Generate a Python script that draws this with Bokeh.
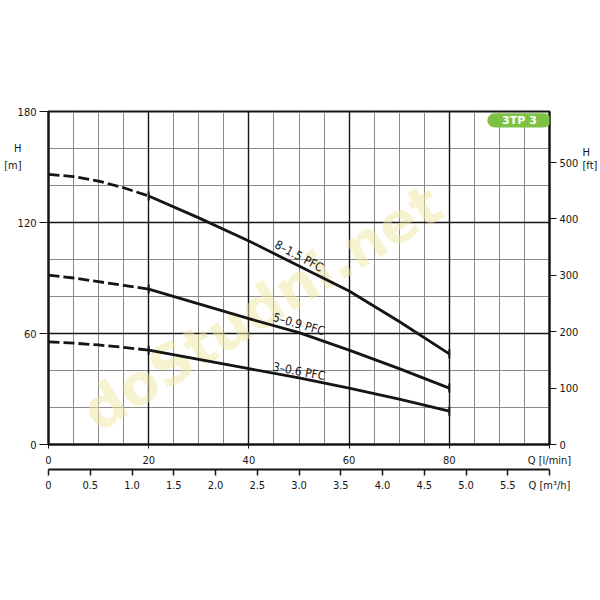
import numpy as np
from bokeh.plotting import figure
from bokeh.models import Range1d, LinearAxis, FixedTicker, Grid, Label, BoxAnnotation
from bokeh.core.properties import value
from bokeh.embed import file_html
from bokeh.resources import INLINE

# ---- data ----
q_lpm = [0, 5, 10, 15, 20, 30, 40, 50, 60, 70, 80]
h_8_15 = [146, 144.8, 142.4, 138.8, 134.3, 122.5, 110, 96.5, 83, 66.5, 49]
h_5_09 = [91.5, 90, 88, 86, 84, 76, 68, 60.5, 51, 41, 30.5]
h_3_06 = [55.5, 54.8, 53.8, 52.5, 51, 46, 41, 36, 30.5, 24.5, 18]
curve_names = ["8–1.5 PFC", "5–0.9 PFC", "3–0.6 PFC"]
label_q = [50, 50, 50]
label_h = [101.8, 65, 39.5]
label_angle = [-28, -16, -10.5]
dash_end_q = 20
mark_q = [20, 80]
q_ticks = [0, 20, 40, 60, 80]
q_caption_at = 100
m3h_ticks = [0, 0.5, 1.0, 1.5, 2.0, 2.5, 3.0, 3.5, 4.0, 4.5, 5.0, 5.5]
m3h_caption_at = 6.0
h_m_ticks = [0, 60, 120, 180]
h_ft_ticks = [0, 100, 200, 300, 400, 500]
h_caption_left = {160: "H", 151: "[m]"}
h_caption_right = {158: "H", 151: "[ft]"}
model_name = "3TP 3"
watermark = "doStudni.net"

FONT = "DejaVu Sans Condensed"
INK = "#151515"

p = figure(width=600, height=600, x_range=Range1d(0, 100), y_range=Range1d(0, 180),
           output_backend="svg", toolbar_location=None, title=None,
           min_border_left=48, min_border_right=50, min_border_top=111, min_border_bottom=156,
           background_fill_color="white", border_fill_color="white")
p.outline_line_color = INK
p.outline_line_width = 2

# grids
p.xgrid.ticker = FixedTicker(ticks=list(range(0, 101, 5)))
p.xgrid.grid_line_color = "#8a8a8a"
p.xgrid.grid_line_width = 1
p.ygrid.ticker = FixedTicker(ticks=list(range(0, 181, 20)))
p.ygrid.grid_line_color = "#8a8a8a"
p.ygrid.grid_line_width = 1
p.add_layout(Grid(dimension=0, ticker=FixedTicker(ticks=[20, 40, 60, 80]),
                  grid_line_color=INK, grid_line_width=1.4))
p.add_layout(Grid(dimension=1, ticker=FixedTicker(ticks=[60, 120]),
                  grid_line_color=INK, grid_line_width=1.4))

def style_axis(ax, size="11px"):
    ax.major_label_text_font = FONT
    ax.major_label_text_font_size = size
    ax.major_label_text_color = INK
    ax.axis_line_color = INK
    ax.major_tick_line_color = INK
    ax.minor_tick_line_color = None

# Q [l/min] axis (caption sits at the right end, on the tick-label row)
xa = p.xaxis[0]
xa.ticker = FixedTicker(ticks=q_ticks + [q_caption_at])
xa.major_label_overrides = {q_caption_at: "Q [l/min]"}
style_axis(xa)
xa.axis_line_width = 2
xa.major_tick_in = 0
xa.major_tick_out = 4
xa.major_label_standoff = 5

# Q [m3/h] axis
p.extra_x_ranges = {"m3h": Range1d(0, 6.0)}
xa2 = LinearAxis(x_range_name="m3h", ticker=FixedTicker(ticks=m3h_ticks + [m3h_caption_at]))
style_axis(xa2)
ov = {t: (str(t) if t != 0 else "0") for t in m3h_ticks}
ov[m3h_caption_at] = "Q [m³/h]"
xa2.major_label_overrides = ov
xa2.axis_line_width = 2
xa2.major_tick_in = 0
xa2.major_tick_out = 6
xa2.major_tick_line_width = 1.5
xa2.major_label_standoff = 3
p.add_layout(xa2, "below")

# H [m] axis
ya = p.yaxis[0]
ya.ticker = FixedTicker(ticks=h_m_ticks)
style_axis(ya)
ya.axis_line_width = 2
ya.major_tick_in = 0
ya.major_tick_out = 9
ya.major_label_standoff = 3

# H [m] caption (label-only axis)
ycap = LinearAxis(ticker=FixedTicker(ticks=list(h_caption_left.keys())))
style_axis(ycap, "11px")
ycap.major_label_overrides = h_caption_left
ycap.axis_line_color = None
ycap.major_tick_line_color = None
ycap.major_tick_in = 0
ycap.major_tick_out = 0
ycap.major_label_standoff = -7
p.add_layout(ycap, "left")

# H [ft] axis
p.extra_y_ranges = {"ft": Range1d(0, 180 / 0.3048)}
ya2 = LinearAxis(y_range_name="ft", ticker=FixedTicker(ticks=h_ft_ticks))
style_axis(ya2)
ya2.axis_line_width = 2
ya2.major_tick_in = 0
ya2.major_tick_out = 7
ya2.major_label_standoff = 3
p.add_layout(ya2, "right")

# H [ft] caption (label-only axis)
ycap2 = LinearAxis(ticker=FixedTicker(ticks=list(h_caption_right.keys())))
style_axis(ycap2, "11px")
ycap2.major_label_overrides = h_caption_right
ycap2.axis_line_color = None
ycap2.major_tick_line_color = None
ycap2.major_tick_in = 0
ycap2.major_tick_out = 0
ycap2.major_label_standoff = 1
p.add_layout(ycap2, "right")

# watermark
p.text(x=[42.6], y=[74], text=[watermark], angle=32, angle_units="deg",
       text_font=value("DejaVu Sans"), text_font_style="bold", text_font_size="56px",
       text_color="#efe6a0", text_alpha=0.5, text_align="center", text_baseline="middle")

# curves
k = q_lpm.index(dash_end_q)
for hs in (h_8_15, h_5_09, h_3_06):
    p.line(q_lpm[:k + 1], hs[:k + 1], line_color=INK, line_width=2.8, line_dash="11 4")
    p.line(q_lpm[k:], hs[k:], line_color=INK, line_width=2.8)
    mh = [hs[q_lpm.index(q)] for q in mark_q]
    p.scatter(mark_q, mh, marker="dash", angle=np.pi / 2, size=9,
              line_color=INK, line_width=2)

p.text(x=label_q, y=label_h, text=curve_names, angle=label_angle, angle_units="deg",
       text_font=value(FONT), text_font_size="12px", text_color=INK,
       text_align="center", text_baseline="middle")

# model badge
p.add_layout(BoxAnnotation(left=87.6, right=100.3, bottom=171.4, top=179.0,
                           fill_color="#7dc242", fill_alpha=1, line_color=None,
                           border_radius=7))
p.add_layout(Label(x=94.0, y=175.2, text=model_name, text_color="white",
                   text_font="DejaVu Sans", text_font_style="bold",
                   text_font_size="11px", text_align="center", text_baseline="middle"))

open("out.html", "w").write(file_html(p, INLINE))
